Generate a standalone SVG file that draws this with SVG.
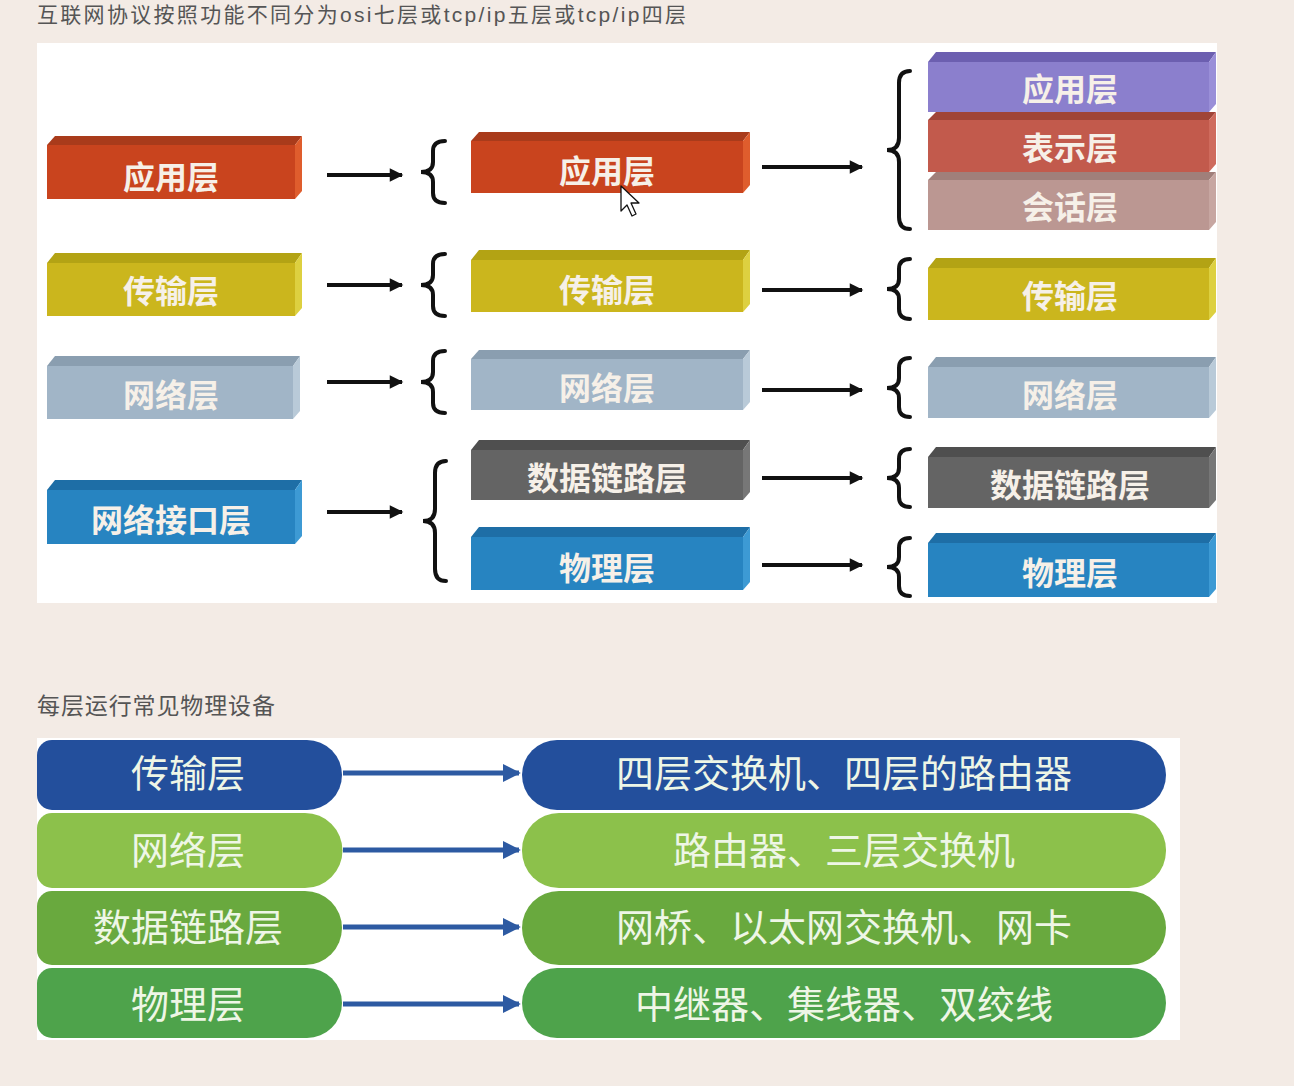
<svg xmlns="http://www.w3.org/2000/svg" width="1294" height="1086" viewBox="0 0 1294 1086">
<defs>
<style>
.ttl{font-family:"Liberation Sans","Noto Sans CJK SC",sans-serif;font-size:21px;fill:#555;}
.bx{font-family:"Noto Sans CJK SC",sans-serif;font-size:32px;font-weight:bold;fill:#f6f0e8;text-anchor:middle;}
.lw{font-family:"Noto Sans CJK SC",sans-serif;font-size:38px;fill:#eef6e6;text-anchor:middle;}
.ar{stroke:#111;stroke-width:4;fill:none;}
.br{stroke:#111;stroke-width:4;fill:none;stroke-linecap:round;}
.ba{stroke:#2d5aa2;stroke-width:5;fill:none;}
</style>
<marker id="ah" viewBox="0 0 10 10" refX="9" refY="5" markerWidth="4" markerHeight="3.4" orient="auto" markerUnits="strokeWidth"><path d="M0,0 L10,5 L0,10 z" fill="#111"/></marker>
<marker id="bh" viewBox="0 0 10 10" refX="9" refY="5" markerWidth="3.6" markerHeight="4.4" orient="auto" markerUnits="strokeWidth"><path d="M0,0 L10,5 L0,10 z" fill="#2d5aa2"/></marker>
</defs>
<rect x="0" y="0" width="1294" height="1086" fill="#f3ebe5"/>
<text class="ttl" x="37" y="22" textLength="649">互联网协议按照功能不同分为osi七层或tcp/ip五层或tcp/ip四层</text>
<rect x="37" y="43" width="1180" height="560" fill="#ffffff"/>

<!-- left column -->
<g id="l-app">
<polygon points="47,145 55,136 302,136 295,145" fill="#a93b1b"/>
<rect x="47" y="145" width="248" height="54" fill="#c9441e"/>
<polygon points="295,145 302,136 302,191 295,199" fill="#df5d2d"/>
<text class="bx" x="171" y="189">应用层</text>
</g>
<g id="l-tra">
<polygon points="47,263 55,253 302,253 295,263" fill="#b3a314"/>
<rect x="47" y="263" width="248" height="53" fill="#cbb61d"/>
<polygon points="295,263 302,253 302,308 295,316" fill="#ddd040"/>
<text class="bx" x="171" y="303">传输层</text>
</g>
<g id="l-net">
<polygon points="47,366 55,356 300,356 293,366" fill="#8a9eb0"/>
<rect x="47" y="366" width="246" height="53" fill="#a1b5c7"/>
<polygon points="293,366 300,356 300,411 293,419" fill="#b9cad8"/>
<text class="bx" x="171" y="407">网络层</text>
</g>
<g id="l-if">
<polygon points="47,490 55,480 302,480 295,490" fill="#1e6ea6"/>
<rect x="47" y="490" width="248" height="54" fill="#2784c1"/>
<polygon points="295,490 302,480 302,536 295,544" fill="#3d9ad4"/>
<text class="bx" x="171" y="532">网络接口层</text>
</g>

<!-- middle column -->
<g id="m-app">
<polygon points="471,141 479,132 750,132 743,141" fill="#a93b1b"/>
<rect x="471" y="141" width="272" height="52" fill="#c9441e"/>
<polygon points="743,141 750,132 750,185 743,193" fill="#df5d2d"/>
<text class="bx" x="607" y="183">应用层</text>
</g>
<g id="m-tra">
<polygon points="471,260 479,250 750,250 743,260" fill="#b3a314"/>
<rect x="471" y="260" width="272" height="52" fill="#cbb61d"/>
<polygon points="743,260 750,250 750,304 743,312" fill="#ddd040"/>
<text class="bx" x="607" y="302">传输层</text>
</g>
<g id="m-net">
<polygon points="471,359 479,350 750,350 743,359" fill="#8a9eb0"/>
<rect x="471" y="359" width="272" height="51" fill="#a1b5c7"/>
<polygon points="743,359 750,350 750,402 743,410" fill="#b9cad8"/>
<text class="bx" x="607" y="400">网络层</text>
</g>
<g id="m-dl">
<polygon points="471,450 479,440 750,440 743,450" fill="#4f4f4f"/>
<rect x="471" y="450" width="272" height="50" fill="#646464"/>
<polygon points="743,450 750,440 750,492 743,500" fill="#777"/>
<text class="bx" x="607" y="490">数据链路层</text>
</g>
<g id="m-ph">
<polygon points="471,537 479,527 750,527 743,537" fill="#1e6ea6"/>
<rect x="471" y="537" width="272" height="53" fill="#2784c1"/>
<polygon points="743,537 750,527 750,582 743,590" fill="#3d9ad4"/>
<text class="bx" x="607" y="580">物理层</text>
</g>

<!-- right column -->
<g id="r-app">
<polygon points="928,62 936,52 1216,52 1209,62" fill="#6c5fb0"/>
<rect x="928" y="62" width="281" height="50" fill="#8b7fcd"/>
<polygon points="1209,62 1216,52 1216,104 1209,112" fill="#9a8fd8"/>
<text class="bx" x="1070" y="101">应用层</text>
</g>
<g id="r-pre">
<polygon points="928,120 936,112 1216,112 1209,120" fill="#a04437"/>
<rect x="928" y="120" width="281" height="52" fill="#c25a4c"/>
<polygon points="1209,120 1216,112 1216,164 1209,172" fill="#cf6b5d"/>
<text class="bx" x="1070" y="160">表示层</text>
</g>
<g id="r-ses">
<polygon points="928,180 936,172 1216,172 1209,180" fill="#a07f7a"/>
<rect x="928" y="180" width="281" height="50" fill="#bb9792"/>
<polygon points="1209,180 1216,172 1216,222 1209,230" fill="#c7a6a1"/>
<text class="bx" x="1070" y="219">会话层</text>
</g>
<g id="r-tra">
<polygon points="928,268 936,258 1216,258 1209,268" fill="#b3a314"/>
<rect x="928" y="268" width="281" height="52" fill="#cbb61d"/>
<polygon points="1209,268 1216,258 1216,312 1209,320" fill="#ddd040"/>
<text class="bx" x="1070" y="308">传输层</text>
</g>
<g id="r-net">
<polygon points="928,367 936,357 1216,357 1209,367" fill="#8a9eb0"/>
<rect x="928" y="367" width="281" height="51" fill="#a1b5c7"/>
<polygon points="1209,367 1216,357 1216,410 1209,418" fill="#b9cad8"/>
<text class="bx" x="1070" y="407">网络层</text>
</g>
<g id="r-dl">
<polygon points="928,457 936,447 1216,447 1209,457" fill="#4f4f4f"/>
<rect x="928" y="457" width="281" height="51" fill="#646464"/>
<polygon points="1209,457 1216,447 1216,500 1209,508" fill="#777"/>
<text class="bx" x="1070" y="497">数据链路层</text>
</g>
<g id="r-ph">
<polygon points="928,543 936,533 1216,533 1209,543" fill="#1e6ea6"/>
<rect x="928" y="543" width="281" height="54" fill="#2784c1"/>
<polygon points="1209,543 1216,533 1216,589 1209,597" fill="#3d9ad4"/>
<text class="bx" x="1070" y="585">物理层</text>
</g>

<!-- cursor -->
<polygon points="621,186 621,211 627,205 632,216 636,214 631,203 639,203" fill="#fff" stroke="#111" stroke-width="1.3" stroke-linejoin="round"/>

<g id="connectors">
<line class="ar" x1="327" y1="175" x2="402" y2="175" marker-end="url(#ah)"/>
<line class="ar" x1="327" y1="285" x2="402" y2="285" marker-end="url(#ah)"/>
<line class="ar" x1="327" y1="382" x2="402" y2="382" marker-end="url(#ah)"/>
<line class="ar" x1="327" y1="512" x2="402" y2="512" marker-end="url(#ah)"/>
<line class="ar" x1="762" y1="167" x2="862" y2="167" marker-end="url(#ah)"/>
<line class="ar" x1="762" y1="290" x2="862" y2="290" marker-end="url(#ah)"/>
<line class="ar" x1="762" y1="390" x2="862" y2="390" marker-end="url(#ah)"/>
<line class="ar" x1="762" y1="478" x2="862" y2="478" marker-end="url(#ah)"/>
<line class="ar" x1="762" y1="565" x2="862" y2="565" marker-end="url(#ah)"/>
<path class="br" d="M445,141 Q433,141 433,151 L433,162 Q433,172 421,172 Q433,172 433,182 L433,193 Q433,203 445,203"/>
<path class="br" d="M445,254 Q433,254 433,264 L433,275 Q433,285 421,285 Q433,285 433,295 L433,306 Q433,316 445,316"/>
<path class="br" d="M445,351 Q433,351 433,361 L433,372 Q433,382 421,382 Q433,382 433,392 L433,403 Q433,413 445,413"/>
<path class="br" d="M446,461 Q435,461 435,473 L435,509 Q435,521 423,521 Q435,521 435,533 L435,569 Q435,581 446,581"/>
<path class="br" d="M910,71 Q899,71 899,83 L899,138 Q899,150 887,150 Q899,150 899,162 L899,217 Q899,229 910,229"/>
<path class="br" d="M910,259 Q899,259 899,269 L899,279 Q899,289 887,289 Q899,289 899,299 L899,309 Q899,319 910,319"/>
<path class="br" d="M910,358 Q899,358 899,368 L899,378 Q899,388 887,388 Q899,388 899,398 L899,407 Q899,417 910,417"/>
<path class="br" d="M910,449 Q899,449 899,459 L899,468 Q899,478 887,478 Q899,478 899,488 L899,497 Q899,507 910,507"/>
<path class="br" d="M910,538 Q899,538 899,548 L899,557 Q899,567 887,567 Q899,567 899,577 L899,586 Q899,596 910,596"/>
</g>

<!-- lower section -->
<text class="ttl" x="37" y="714" style="font-size:23px" textLength="238">每层运行常见物理设备</text>
<rect x="37" y="738" width="1143" height="302" fill="#ffffff"/>

<g id="d-tra-l"><path d="M52,740 L307,740 A35,35 0 0 1 307,810 L52,810 A15,15 0 0 1 37,795 L37,755 A15,15 0 0 1 52,740 z" fill="#234f9c"/><text class="lw" x="188" y="787">传输层</text></g>
<g id="d-net-l"><path d="M52,813 L305,813 A37,37 0 0 1 305,888 L52,888 A15,15 0 0 1 37,873 L37,828 A15,15 0 0 1 52,813 z" fill="#8cc14b"/><text class="lw" x="188" y="864">网络层</text></g>
<g id="d-dl-l"><path d="M52,891 L305,891 A37,37 0 0 1 305,965 L52,965 A15,15 0 0 1 37,950 L37,906 A15,15 0 0 1 52,891 z" fill="#69a93e"/><text class="lw" x="188" y="941">数据链路层</text></g>
<g id="d-ph-l"><path d="M52,968 L307,968 A35,35 0 0 1 307,1038 L52,1038 A15,15 0 0 1 37,1023 L37,983 A15,15 0 0 1 52,968 z" fill="#4ea34b"/><text class="lw" x="188" y="1018">物理层</text></g>

<g id="d-tra-r"><rect x="522" y="740" width="644" height="70" rx="35" fill="#234f9c"/><text class="lw" x="844" y="787">四层交换机、四层的路由器</text></g>
<g id="d-net-r"><rect x="522" y="813" width="644" height="75" rx="37" fill="#8cc14b"/><text class="lw" x="844" y="864">路由器、三层交换机</text></g>
<g id="d-dl-r"><rect x="522" y="891" width="644" height="74" rx="37" fill="#69a93e"/><text class="lw" x="844" y="941">网桥、以太网交换机、网卡</text></g>
<g id="d-ph-r"><rect x="522" y="968" width="644" height="70" rx="35" fill="#4ea34b"/><text class="lw" x="844" y="1018">中继器、集线器、双绞线</text></g>

<g id="connectors-lower">
<line class="ba" x1="343" y1="773" x2="519" y2="773" marker-end="url(#bh)"/>
<line class="ba" x1="343" y1="850" x2="519" y2="850" marker-end="url(#bh)"/>
<line class="ba" x1="343" y1="927" x2="519" y2="927" marker-end="url(#bh)"/>
<line class="ba" x1="343" y1="1004" x2="519" y2="1004" marker-end="url(#bh)"/>
</g>
</svg>
